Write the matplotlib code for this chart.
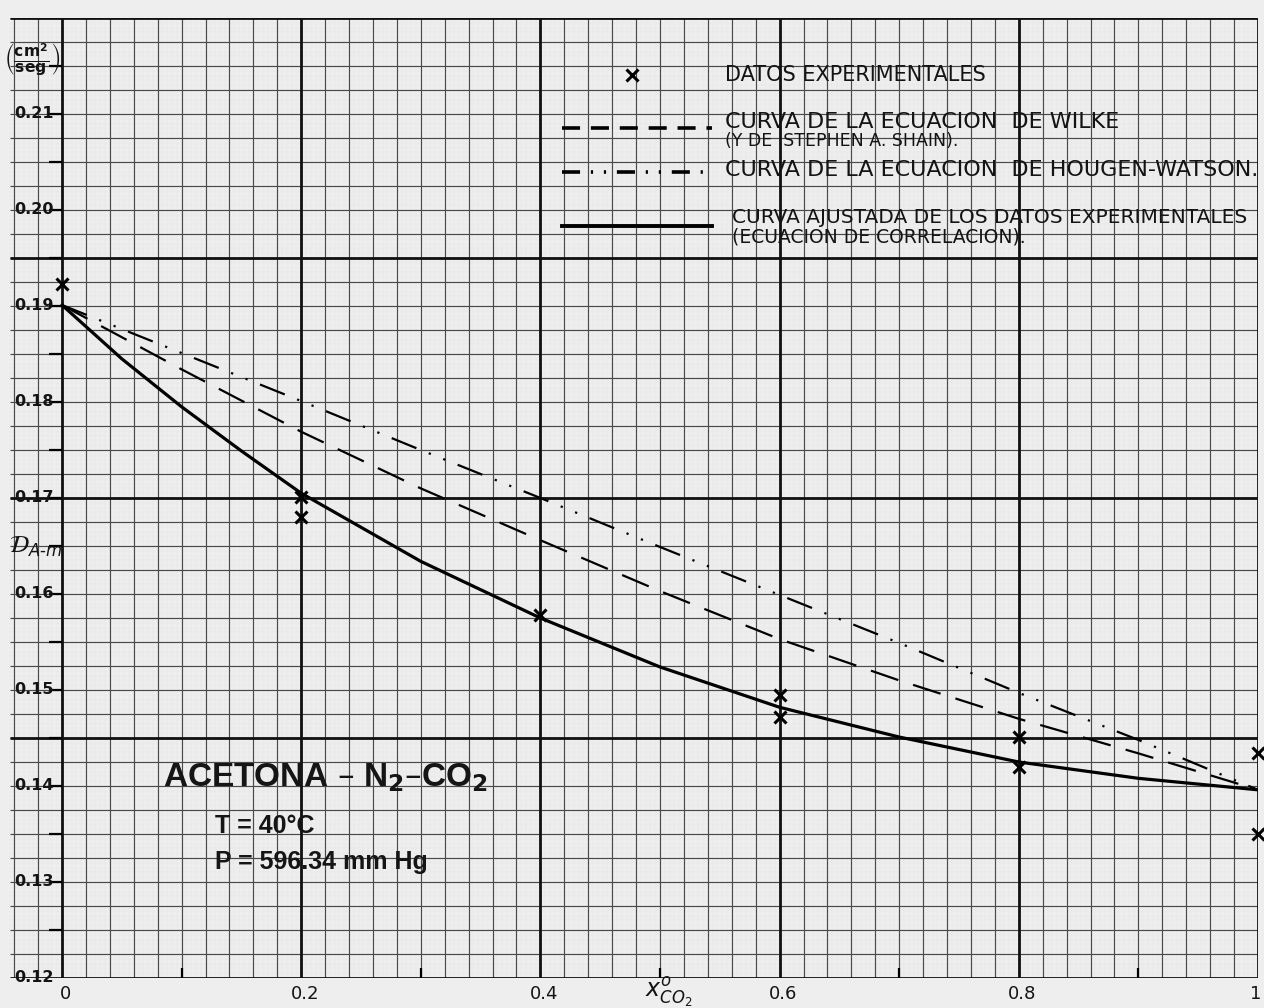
import numpy as np
import matplotlib
matplotlib.use("Agg")
import matplotlib.pyplot as plt

# experimental points (x CO2, D A-m in cm2/seg)
x_exp = [0.0, 0.2, 0.2, 0.4, 0.6, 0.6, 0.8, 0.8, 1.0, 1.0]
d_exp = [0.1923, 0.1701, 0.1680, 0.1578, 0.1495, 0.1472, 0.1451, 0.1420, 0.1434, 0.1350]

# fitted curve (correlation equation)
x_fit = [0.0, 0.05, 0.1, 0.15, 0.2, 0.3, 0.4, 0.5, 0.6, 0.7, 0.8, 0.9, 1.0]
d_fit = [0.1901, 0.1845, 0.1795, 0.1749, 0.1705, 0.1634, 0.1575, 0.1524, 0.1482, 0.1451, 0.1425, 0.1408, 0.1396]

# theoretical curves
x_teo = [0.0, 0.1, 0.2, 0.3, 0.4, 0.5, 0.6, 0.7, 0.8, 0.9, 1.0]
d_wilke = [0.1901, 0.1834, 0.1769, 0.1710, 0.1656, 0.1603, 0.1553, 0.1510, 0.1470, 0.1434, 0.1396]
d_hougen = [0.1901, 0.1851, 0.1801, 0.1750, 0.1700, 0.1649, 0.1599, 0.1549, 0.1497, 0.1448, 0.1396]

y_ticks = [0.12, 0.13, 0.14, 0.15, 0.16, 0.17, 0.18, 0.19, 0.20, 0.21]
y_labels = ["0.12", "0.13", "0.14", "0.15", "0.16", "0.17", "0.18", "0.19", "0.20", "0.21"]
x_ticks = [0.0, 0.2, 0.4, 0.6, 0.8, 0.995]
x_labels = ["0", "0.2", "0.4", "0.6", "0.8", "1"]

legend_texts = ["DATOS EXPERIMENTALES",
                "CURVA DE LA ECUACION  DE WILKE",
                "(Y DE  STEPHEN A. SHAIN).",
                "CURVA DE LA ECUACION  DE HOUGEN-WATSON.",
                "CURVA AJUSTADA DE LOS DATOS EXPERIMENTALES",
                "(ECUACION DE CORRELACION)."]

hand = "DejaVu Sans"
ink = "#141414"
paper = "#eeeeee"

fig = plt.figure(figsize=(12.64, 10.08), dpi=100, facecolor=paper)
ax = fig.add_axes([10 / 1264, 30 / 1008, 1248 / 1264, 960 / 1008])
ax.set_facecolor(paper)
x0, x1, y0, y1 = -52 / 1196, 1.0, 0.12, 0.22
ax.set_xlim(x0, x1)
ax.set_ylim(y0, y1)
for s in ax.spines.values():
    s.set_visible(False)
ax.set_xticks([])
ax.set_yticks([])

# graph paper
ax.vlines(np.arange(-0.04, 1.0001, 0.004), y0, y1, color="#d2d2d2", lw=0.25, ls=":", zorder=0)
ax.hlines(np.arange(0.12, 0.22001, 0.0005), x0, x1, color="#d2d2d2", lw=0.25, ls=":", zorder=0)
ax.vlines(np.arange(-0.04, 1.0001, 0.02), y0, y1, color="#4a4a4a", lw=0.85, zorder=1)
ax.hlines(np.arange(0.12, 0.22001, 0.0025), x0, x1, color="#4a4a4a", lw=0.85, zorder=1)
ax.vlines(np.arange(0.0, 1.0001, 0.2), y0, y1, color="#111111", lw=2.0, zorder=1)
ax.hlines(np.arange(0.12, 0.22001, 0.025), x0, x1, color="#111111", lw=2.0, zorder=1)

# axis ticks drawn by hand
ax.hlines(np.arange(0.125, 0.2151, 0.005), -0.011, 0.0, color="black", lw=1.6, zorder=2)
ax.vlines(np.arange(0.1, 1.0, 0.2), 0.12, 0.121, color="black", lw=1.6, zorder=2)
for v, lab in zip(y_ticks, y_labels):
    ax.text(-0.0235, v, lab, ha="center", va="center", fontsize=11.5, family=hand,
            weight="bold", color=ink, zorder=5)
for v, lab in zip(x_ticks, x_labels):
    ax.text(v + 0.003, 0.1183, lab, ha="center", va="center", fontsize=13, family=hand,
            color=ink, clip_on=False)
ax.text(0.507, 0.1185, r"$x^{o}_{CO_2}$", ha="center", va="center", fontsize=17, color=ink)
ax.text(-0.025, 0.2156, r"$\left(\frac{\mathbf{cm^2}}{\mathbf{seg}}\right)$", ha="center",
        va="center", fontsize=16, color=ink, zorder=5)
ax.text(-0.022, 0.1649, r"$\mathcal{D}_{A\text{-}m}$", ha="center", va="center", fontsize=17,
        color=ink, zorder=5)

# curves
ax.plot(x_fit, d_fit, color="black", lw=2.3, zorder=4, solid_capstyle="round")
ax.plot(x_teo, d_wilke, color="black", lw=1.6, ls=(0, (13, 7)), zorder=4)
ax.plot(x_teo, d_hougen, color="black", lw=1.6, ls=(0, (12, 6, 1, 6, 1, 6)), zorder=4)
ax.plot(x_exp, d_exp, ls="none", marker="x", ms=9, mew=2.2, color="black", zorder=5, clip_on=False)

# legend written on the paper
lx0, lx1, tx = 0.418, 0.5435, 0.5543
ax.plot([0.4766], [0.2141], ls="none", marker="x", ms=9, mew=2.2, color="black", zorder=5)
ax.plot([lx0, lx1], [0.20854, 0.20854], color="black", lw=2.6, ls=(0, (5, 3)), zorder=4)
ax.plot([lx0, lx1], [0.20396, 0.20396], color="black", lw=2.6, ls=(0, (5, 3, 0.6, 3, 0.6, 3)), zorder=4)
ax.plot([lx0, lx1], [0.19833, 0.19833], color="black", lw=2.8, zorder=4)
sizes = [15, 16, 12.5, 16, 14.5, 13.5]
ys = [0.21406, 0.20917, 0.20718, 0.20417, 0.19927, 0.19718]
xs = [tx, tx, tx, tx, tx + 0.006, tx + 0.006]
for t, fs, yy, xx in zip(legend_texts, sizes, ys, xs):
    ax.text(xx, yy, t, fontsize=fs, family=hand, va="center", color=ink, zorder=5)

# system conditions
ax.text(0.0845, 0.1409, r"ACETONA – N$_\mathbf{2}$–CO$_\mathbf{2}$", fontsize=24,
        family="Liberation Sans", weight="bold", va="center", color="#151515", zorder=5)
ax.text(0.128, 0.13583, "T = 40°C", fontsize=18, family="Liberation Sans", weight="bold",
        va="center", color="#151515", zorder=5)
ax.text(0.128, 0.13208, "P = 596.34 mm Hg", fontsize=18, family="Liberation Sans",
        weight="bold", va="center", color="#151515", zorder=5)

plt.savefig("out.png", dpi=100, facecolor=paper)
